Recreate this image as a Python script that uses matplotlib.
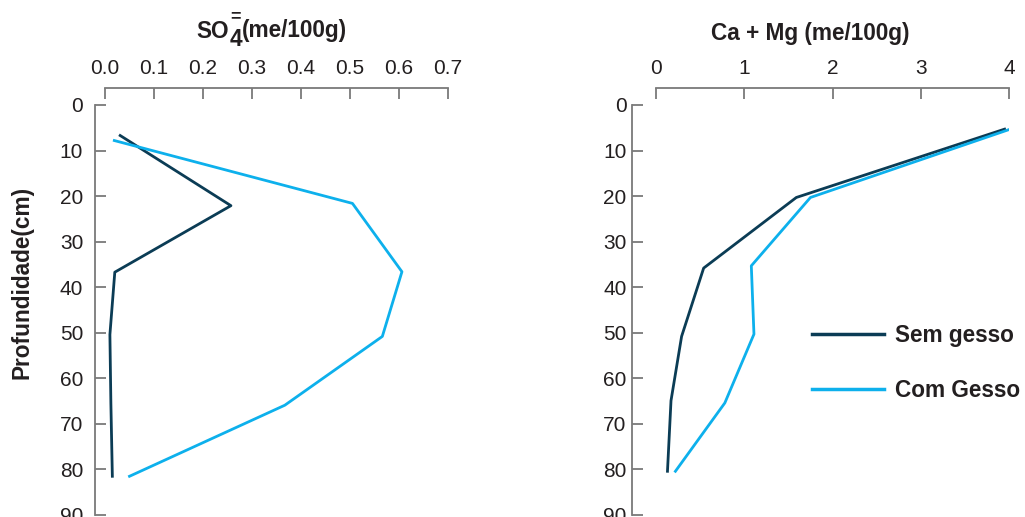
import matplotlib
matplotlib.use("Agg")
import matplotlib.pyplot as plt
from matplotlib.lines import Line2D

plt.rcParams['font.family'] = ['Liberation Sans', 'DejaVu Sans']

# ---- data ----
so4_depth_sem = [6.7, 22.1, 36.7, 50.4, 65.5, 81.5]
so4_sem = [0.031, 0.257, 0.020, 0.010, 0.012, 0.015]
so4_depth_com = [7.8, 21.6, 36.6, 50.8, 65.9, 81.5]
so4_com = [0.019, 0.505, 0.606, 0.566, 0.367, 0.050]

camg_depth_sem = [5.3, 20.3, 35.8, 50.8, 64.9, 80.4]
camg_sem = [3.95, 1.59, 0.54, 0.29, 0.17, 0.13]
camg_depth_com = [5.0, 20.3, 35.3, 50.3, 65.4, 80.4]
camg_com = [4.06, 1.75, 1.08, 1.11, 0.78, 0.22]

so4_ticks = [0.0, 0.1, 0.2, 0.3, 0.4, 0.5, 0.6, 0.7]
so4_ticklabels = ['0.0', '0.1', '0.2', '0.3', '0.4', '0.5', '0.6', '0.7']
camg_ticks = [0, 1, 2, 3, 4]
depth_ticks = [0, 10, 20, 30, 40, 50, 60, 70, 80, 90]

series_labels = ['Sem gesso', 'Com Gesso']
dark = '#0b3c55'
light = '#0db0ec'
spine_c = '#7a7a7a'
text_c = '#231f20'

TICK_FS = 15
BOLD_FS = 16.3

W, H = 1025, 517
fig = plt.figure(figsize=(W / 100, H / 100), dpi=100)

def px_axes(x0, x1, y0, y1):
    return fig.add_axes([x0 / W, 1 - y1 / H, (x1 - x0) / W, (y1 - y0) / H])

def style(ax, left_out_px, ypad):
    for s in ['right', 'bottom']:
        ax.spines[s].set_visible(False)
    ax.spines['top'].set_position(('outward', 17 * 0.72))
    ax.spines['left'].set_position(('outward', left_out_px * 0.72))
    for s in ['top', 'left']:
        ax.spines[s].set_color(spine_c)
        ax.spines[s].set_linewidth(1.3)
    ax.xaxis.set_ticks_position('top')
    ax.yaxis.set_ticks_position('left')
    ax.tick_params(axis='x', direction='in', length=7.7, width=1.3, color=spine_c,
                   labelsize=TICK_FS, labelcolor=text_c, pad=7.5)
    ax.tick_params(axis='y', direction='in', length=7.7, width=1.3, color=spine_c,
                   labelsize=TICK_FS, labelcolor=text_c, pad=ypad)
    ax.set_ylim(90, 0)
    ax.set_yticks(depth_ticks)
    ax.set_facecolor('none')

ax1 = px_axes(105, 448, 105, 515)
ax1.plot(so4_sem, so4_depth_sem, color=dark, lw=2.0)
ax1.plot(so4_com, so4_depth_com, color=light, lw=2.0)
ax1.set_xlim(0, 0.7)
ax1.set_xticks(so4_ticks)
ax1.set_xticklabels(so4_ticklabels)
style(ax1, 10, 8.5)

ax2 = px_axes(656, 1009, 105, 515)
ax2.plot(camg_sem, camg_depth_sem, color=dark, lw=2.0)
ax2.plot(camg_com, camg_depth_com, color=light, lw=2.0)
ax2.set_xlim(0, 4)
ax2.set_xticks(camg_ticks)
style(ax2, 24, 4)

# ---- SO4 title built from pieces (sub 4 full size, '=' above it) ----
fig.canvas.draw()
rend = fig.canvas.get_renderer()

def ptext(xpx, ybase_px, s, fs, **kw):
    return fig.text(xpx / W, 1 - ybase_px / H, s, ha='left', va='baseline',
                    fontsize=fs, fontweight='bold', color=text_c, **kw)

t_so = ptext(196, 37.5, 'SO', BOLD_FS)
x_after = t_so.get_window_extent(rend).x1 + 0.5
t_4 = ptext(x_after, 46.5, '4', BOLD_FS)
bb4 = t_4.get_window_extent(rend)
fig.text((bb4.x0 + bb4.x1) / 2 / W, 1 - 21 / H, '=', ha='center', va='baseline',
         fontsize=13, fontweight='bold', color=text_c)
ptext(bb4.x1 + 0.5, 37.5, '(me/100g)', BOLD_FS)

fig.text(810 / W, 1 - 40 / H, 'Ca + Mg (me/100g)', ha='center', va='baseline',
         fontsize=BOLD_FS, fontweight='bold', color=text_c)
fig.text(22 / W, 1 - 282 / H, 'Profundidade(cm)', ha='center', va='center',
         rotation=90, fontsize=BOLD_FS, fontweight='bold', color=text_c)

handles = [Line2D([], [], color=dark, lw=2.5), Line2D([], [], color=light, lw=2.5)]
leg = fig.legend(handles, series_labels, loc='center left',
                 bbox_to_anchor=(812 / W, 1 - 363 / H), frameon=False,
                 prop={'size': BOLD_FS, 'weight': 'bold'}, handlelength=3.2,
                 handletextpad=0.45, labelspacing=1.45, borderpad=0, borderaxespad=0)
for t in leg.get_texts():
    t.set_color(text_c)

fig.savefig('out.png', dpi=100)
